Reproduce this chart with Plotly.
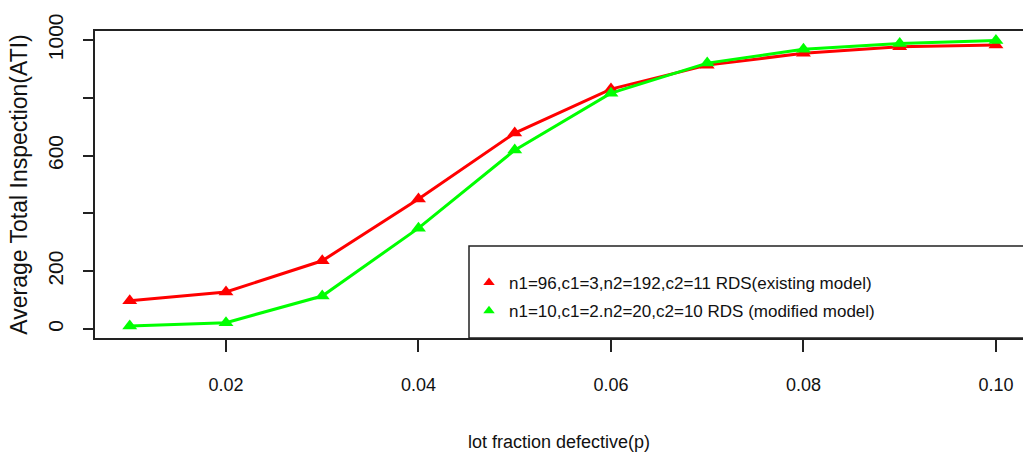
import plotly.graph_objects as go

# Data
p_values = [0.01, 0.02, 0.03, 0.04, 0.05, 0.06, 0.07, 0.08, 0.09, 0.10]
ati_existing = [98, 128, 236, 450, 678, 830, 913, 954, 977, 983]
ati_modified = [10, 22, 114, 349, 619, 816, 920, 968, 988, 998]

name_existing = "n1=96,c1=3,n2=192,c2=11 RDS(existing model)"
name_modified = "n1=10,c1=2.n2=20,c2=10 RDS (modified model)"

x_tickvals = [0.02, 0.04, 0.06, 0.08, 0.10]
x_ticktext = ["0.02", "0.04", "0.06", "0.08", "0.10"]
y_tickvals = [0, 200, 400, 600, 800, 1000]
y_ticktext = ["0", "200", "", "600", "", "1000"]

RED = "#FF0000"
GREEN = "#00FF00"
FONT = "Liberation Sans, Arial, sans-serif"

fig = go.Figure()

fig.add_trace(go.Scatter(
    x=p_values, y=ati_existing, mode="lines+markers",
    line=dict(color=RED, width=3),
    marker=dict(symbol="triangle-up", size=13, color=RED),
    showlegend=False, name=name_existing,
))
fig.add_trace(go.Scatter(
    x=p_values, y=ati_modified, mode="lines+markers",
    line=dict(color=GREEN, width=3),
    marker=dict(symbol="triangle-up", size=13, color=GREEN),
    showlegend=False, name=name_modified,
))
# legend entries (symbols only, as in the reference)
fig.add_trace(go.Scatter(
    x=[None], y=[None], mode="markers", name=name_existing, legendgroup="a",
    marker=dict(symbol="triangle-up", size=10, color=RED),
))
fig.add_trace(go.Scatter(
    x=[None], y=[None], mode="markers", name=name_modified, legendgroup="b",
    marker=dict(symbol="triangle-up", size=10, color=GREEN),
))

W, H = 1023, 457
ml, mr, mt, mb = 95, 0, 31, 119
plot_w = W - ml - mr
plot_h = H - mt - mb

# legend frame (extends past the right edge like the reference)
fx0 = (469 - ml) / plot_w
fy1 = (338 - 246) / plot_h
fig.add_shape(type="rect", xref="paper", yref="paper",
              x0=fx0, x1=1.1, y0=0, y1=fy1,
              line=dict(color="#222222", width=1.5), fillcolor="rgba(0,0,0,0)")

fig.update_layout(
    width=W, height=H,
    margin=dict(l=ml, r=mr, t=mt, b=mb, pad=0),
    paper_bgcolor="white", plot_bgcolor="white",
    showlegend=True,
    legend=dict(
        x=fx0, y=(338 - 265) / plot_h, xanchor="left", yanchor="top",
        bgcolor="rgba(0,0,0,0)", borderwidth=0,
        font=dict(family=FONT, size=17, color="#111111"),
        tracegroupgap=3, itemsizing="trace",
    ),
    xaxis=dict(
        range=[0.00639, 0.10281],
        tickvals=x_tickvals, ticktext=x_ticktext,
        ticks="outside", ticklen=12, tickwidth=1.5, tickcolor="#222222",
        showline=True, linecolor="#222222", linewidth=2, mirror=True,
        showgrid=False, zeroline=False,
        tickfont=dict(family=FONT, size=18, color="#111111"),
        ticklabelstandoff=17,
        title=dict(text="lot fraction defective(p)",
                   font=dict(family=FONT, size=18, color="#111111"),
                   standoff=42),
    ),
    yaxis=dict(
        range=[-31.1, 1031.1],
        tickvals=y_tickvals, ticktext=y_ticktext,
        ticks="outside", ticklen=10, tickwidth=1.5, tickcolor="#222222",
        showline=True, linecolor="#222222", linewidth=2, mirror=False,
        showgrid=False, zeroline=False,
        tickangle=-90,
        tickfont=dict(family=FONT, size=21, color="#111111"),
        ticklabelstandoff=12,
        title=dict(text="Average Total Inspection(ATI)",
                   font=dict(family=FONT, size=23, color="#111111"),
                   standoff=10),
    ),
)

fig.write_html("out.html")
